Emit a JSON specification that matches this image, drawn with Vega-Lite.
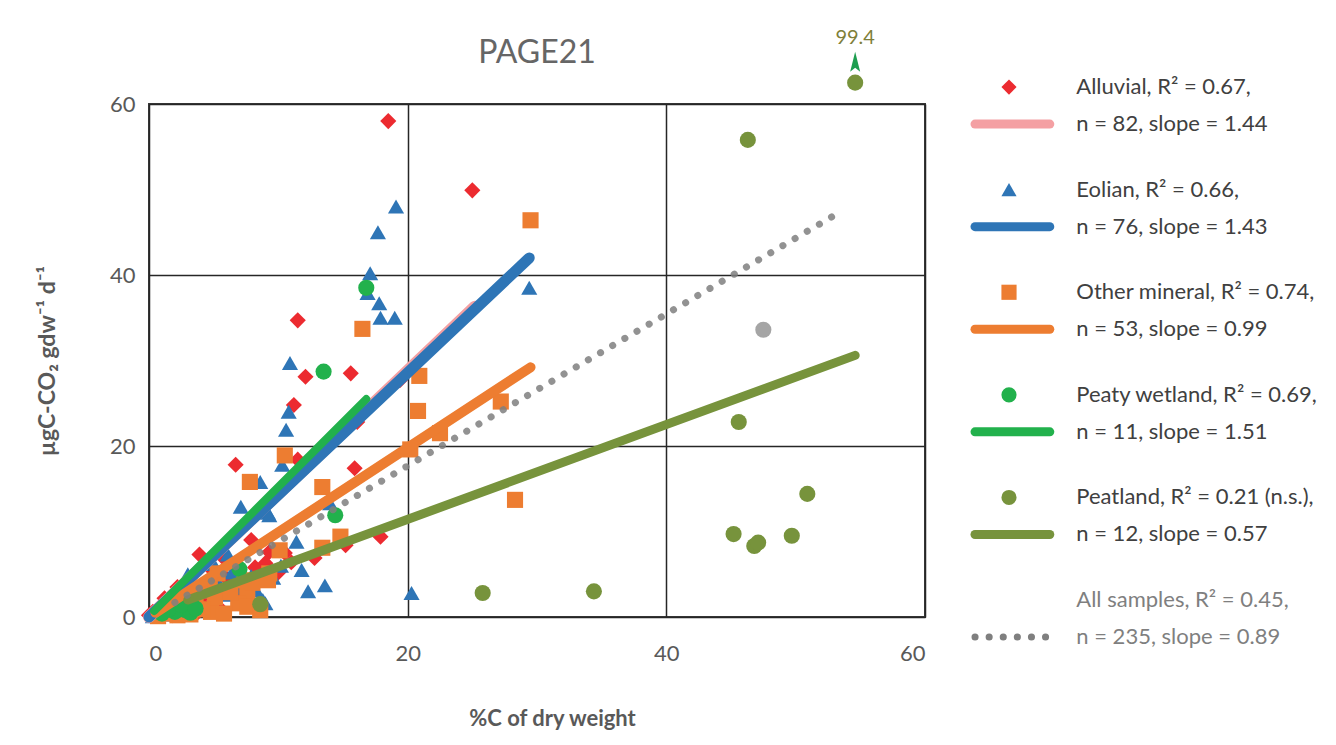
{
  "$schema": "https://vega.github.io/schema/vega-lite/v6.json",
  "padding": {"left": 35, "top": 26, "right": 10, "bottom": 8},
  "bounds": "flush",
  "spacing": 33,
  "config": {"view": {"stroke": null}, "font": "Lato"},
  "datasets": {
    "points": [
      {"series":"Alluvial","x":18.5,"y":58.0},{"series":"Alluvial","x":25.0,"y":49.9},{"series":"Alluvial","x":11.5,"y":34.7},{"series":"Alluvial","x":12.1,"y":28.1},{"series":"Alluvial","x":11.2,"y":24.8},{"series":"Alluvial","x":6.7,"y":17.8},{"series":"Alluvial","x":11.5,"y":18.4},{"series":"Alluvial","x":15.6,"y":28.5},{"series":"Alluvial","x":15.9,"y":17.4},{"series":"Alluvial","x":17.9,"y":9.4},{"series":"Alluvial","x":15.2,"y":8.4},{"series":"Alluvial","x":19.4,"y":27.7},{"series":"Alluvial","x":16.1,"y":22.8},{"series":"Alluvial","x":7.9,"y":9.0},{"series":"Alluvial","x":9.3,"y":7.6},{"series":"Alluvial","x":10.5,"y":7.5},{"series":"Alluvial","x":8.2,"y":5.8},{"series":"Alluvial","x":3.9,"y":7.3},{"series":"Alluvial","x":5.9,"y":6.7},{"series":"Alluvial","x":0.0,"y":0.2},
      {"series":"Alluvial","x":0.5,"y":0.3},{"series":"Alluvial","x":1.0,"y":0.8},{"series":"Alluvial","x":1.5,"y":1.2},{"series":"Alluvial","x":2.0,"y":0.5},{"series":"Alluvial","x":2.5,"y":2.0},{"series":"Alluvial","x":3.0,"y":1.5},{"series":"Alluvial","x":3.5,"y":3.0},{"series":"Alluvial","x":4.0,"y":2.2},{"series":"Alluvial","x":4.5,"y":4.0},{"series":"Alluvial","x":5.0,"y":3.2},{"series":"Alluvial","x":5.5,"y":1.0},{"series":"Alluvial","x":6.0,"y":4.5},{"series":"Alluvial","x":6.5,"y":2.5},{"series":"Alluvial","x":7.0,"y":5.0},{"series":"Alluvial","x":7.5,"y":3.6},{"series":"Alluvial","x":8.5,"y":4.4},{"series":"Alluvial","x":9.0,"y":6.3},{"series":"Alluvial","x":10.0,"y":5.2},{"series":"Alluvial","x":1.2,"y":2.2},{"series":"Alluvial","x":2.2,"y":3.5},{"series":"Alluvial","x":3.2,"y":4.6},{"series":"Alluvial","x":4.8,"y":5.6},{"series":"Alluvial","x":6.2,"y":3.4},{"series":"Alluvial","x":11.0,"y":6.4},{"series":"Alluvial","x":0.3,"y":0.6},{"series":"Alluvial","x":1.8,"y":0.2},{"series":"Alluvial","x":2.8,"y":0.9},{"series":"Alluvial","x":3.8,"y":0.6},{"series":"Alluvial","x":4.2,"y":1.4},{"series":"Alluvial","x":12.8,"y":6.9},
      {"series":"Eolian","x":19.1,"y":48.0},{"series":"Eolian","x":17.7,"y":45.0},{"series":"Eolian","x":17.1,"y":40.2},{"series":"Eolian","x":16.9,"y":37.9},{"series":"Eolian","x":17.8,"y":36.7},{"series":"Eolian","x":17.9,"y":35.0},{"series":"Eolian","x":19.0,"y":35.0},{"series":"Eolian","x":29.4,"y":38.5},{"series":"Eolian","x":20.3,"y":2.8},{"series":"Eolian","x":10.9,"y":29.7},{"series":"Eolian","x":10.8,"y":24.0},{"series":"Eolian","x":10.6,"y":21.9},{"series":"Eolian","x":10.3,"y":17.8},{"series":"Eolian","x":8.6,"y":15.8},{"series":"Eolian","x":9.2,"y":12.2},{"series":"Eolian","x":11.4,"y":8.8},{"series":"Eolian","x":13.6,"y":3.7},{"series":"Eolian","x":14.0,"y":13.3},{"series":"Eolian","x":8.8,"y":2.0},{"series":"Eolian","x":7.1,"y":12.9},{"series":"Eolian","x":9.3,"y":11.9},{"series":"Eolian","x":6.1,"y":7.3},{"series":"Eolian","x":9.0,"y":1.6},
      {"series":"Eolian","x":0.3,"y":0.1},{"series":"Eolian","x":0.8,"y":0.5},{"series":"Eolian","x":1.3,"y":1.0},{"series":"Eolian","x":1.8,"y":0.3},{"series":"Eolian","x":2.3,"y":1.6},{"series":"Eolian","x":2.8,"y":0.8},{"series":"Eolian","x":3.3,"y":2.4},{"series":"Eolian","x":3.8,"y":1.2},{"series":"Eolian","x":4.3,"y":3.0},{"series":"Eolian","x":4.8,"y":1.8},{"series":"Eolian","x":5.3,"y":4.2},{"series":"Eolian","x":5.8,"y":2.6},{"series":"Eolian","x":6.4,"y":5.2},{"series":"Eolian","x":6.9,"y":3.4},{"series":"Eolian","x":7.4,"y":1.9},{"series":"Eolian","x":7.9,"y":4.8},{"series":"Eolian","x":8.3,"y":3.1},{"series":"Eolian","x":9.6,"y":4.6},{"series":"Eolian","x":10.2,"y":6.0},{"series":"Eolian","x":11.8,"y":5.5},{"series":"Eolian","x":12.3,"y":3.0},{"series":"Eolian","x":5.0,"y":6.2},{"series":"Eolian","x":3.0,"y":5.0},{"series":"Eolian","x":2.0,"y":2.8},{"series":"Eolian","x":1.0,"y":1.6},
      {"series":"Other mineral","x":29.5,"y":46.4},{"series":"Other mineral","x":16.5,"y":33.7},{"series":"Other mineral","x":20.9,"y":28.2},{"series":"Other mineral","x":20.8,"y":24.1},{"series":"Other mineral","x":22.5,"y":21.5},{"series":"Other mineral","x":27.2,"y":25.2},{"series":"Other mineral","x":20.2,"y":19.6},{"series":"Other mineral","x":28.3,"y":13.7},{"series":"Other mineral","x":14.8,"y":9.4},{"series":"Other mineral","x":10.5,"y":18.9},{"series":"Other mineral","x":7.8,"y":15.8},{"series":"Other mineral","x":13.4,"y":15.2},{"series":"Other mineral","x":10.1,"y":7.8},{"series":"Other mineral","x":13.4,"y":8.1},{"series":"Other mineral","x":9.3,"y":5.1},{"series":"Other mineral","x":7.6,"y":2.8},{"series":"Other mineral","x":9.2,"y":4.3},{"series":"Other mineral","x":6.9,"y":1.6},{"series":"Other mineral","x":4.8,"y":0.6},{"series":"Other mineral","x":2.2,"y":0.2},{"series":"Other mineral","x":4.7,"y":3.5},{"series":"Other mineral","x":5.1,"y":2.3},{"series":"Other mineral","x":7.4,"y":4.3},{"series":"Other mineral","x":7.6,"y":1.2},{"series":"Other mineral","x":8.0,"y":4.0},{"series":"Other mineral","x":0.7,"y":0.1},{"series":"Other mineral","x":5.3,"y":5.1},{"series":"Other mineral","x":1.2,"y":0.4},{"series":"Other mineral","x":1.7,"y":0.9},{"series":"Other mineral","x":2.7,"y":1.1},{"series":"Other mineral","x":3.2,"y":0.3},{"series":"Other mineral","x":3.6,"y":1.9},{"series":"Other mineral","x":4.1,"y":0.9},{"series":"Other mineral","x":5.8,"y":0.4},{"series":"Other mineral","x":6.3,"y":2.9},{"series":"Other mineral","x":8.6,"y":0.8},{"series":"Other mineral","x":3.9,"y":3.1},
      {"series":"Peaty wetland","x":16.8,"y":38.5},{"series":"Peaty wetland","x":13.5,"y":28.7},{"series":"Peaty wetland","x":14.4,"y":11.9},{"series":"Peaty wetland","x":7.0,"y":5.6},{"series":"Peaty wetland","x":2.8,"y":0.8},{"series":"Peaty wetland","x":2.0,"y":0.6},{"series":"Peaty wetland","x":3.2,"y":0.5},{"series":"Peaty wetland","x":1.5,"y":0.9},{"series":"Peaty wetland","x":2.5,"y":1.4},{"series":"Peaty wetland","x":3.6,"y":1.0},{"series":"Peaty wetland","x":1.0,"y":0.4},
      {"series":"Peatland","x":54.6,"y":62.5,"label":"99.4"},{"series":"Peatland","x":46.3,"y":55.8},{"series":"Peatland","x":45.6,"y":22.8},{"series":"Peatland","x":50.9,"y":14.4},{"series":"Peatland","x":45.2,"y":9.7},{"series":"Peatland","x":46.8,"y":8.3},{"series":"Peatland","x":47.1,"y":8.7},{"series":"Peatland","x":49.7,"y":9.5},{"series":"Peatland","x":34.4,"y":3.0},{"series":"Peatland","x":25.8,"y":2.8},{"series":"Peatland","x":8.6,"y":1.5},
      {"series":"Unassigned","x":47.5,"y":33.6}
    ],
    "fits": [
      {"series":"Alluvial","x":0.0,"y":0.0},{"series":"Alluvial","x":25.2,"y":36.3},
      {"series":"Eolian","x":0.0,"y":0.0},{"series":"Eolian","x":29.4,"y":42.0},
      {"series":"Other mineral","x":0.5,"y":0.5},{"series":"Other mineral","x":29.5,"y":29.2},
      {"series":"Peatland","x":3.0,"y":2.0},{"series":"Peatland","x":54.6,"y":30.6},
      {"series":"Peaty wetland","x":0.4,"y":0.7},{"series":"Peaty wetland","x":16.8,"y":25.5}
    ],
    "allfit": [{"x":2.0,"y":1.7},{"x":53.7,"y":47.6}],
    "legend": [
      {"idx":0,"series":"Alluvial","l1":"Alluvial, R² = 0.67,","l2":"n = 82, slope = 1.44"},
      {"idx":1,"series":"Eolian","l1":"Eolian, R² = 0.66,","l2":"n = 76, slope = 1.43"},
      {"idx":2,"series":"Other mineral","l1":"Other mineral, R² = 0.74,","l2":"n = 53, slope = 0.99"},
      {"idx":3,"series":"Peaty wetland","l1":"Peaty wetland, R² = 0.69,","l2":"n = 11, slope = 1.51"},
      {"idx":4,"series":"Peatland","l1":"Peatland, R² = 0.21 (n.s.),","l2":"n = 12, slope = 0.57"},
      {"idx":5,"series":"All samples","l1":"All samples, R² = 0.45,","l2":"n = 235, slope = 0.89"}
    ]
  },
  "hconcat": [
    {
      "width": 776,
      "height": 513,
      "view": {"stroke": "#3a3a3a", "strokeWidth": 2},
      "title": {"text": "PAGE21", "fontSize": 32, "fontWeight": "normal", "color": "#666666", "offset": -42, "anchor": "middle", "frame": "group"},
      "encoding": {
        "x": {"field": "x", "type": "quantitative",
          "scale": {"domain": [0, 60], "nice": false, "zero": false},
          "axis": {"values": [0, 20, 40, 60], "title": "%C of dry weight", "titleFontSize": 22, "titleFontWeight": "bold", "titleColor": "#595959", "titlePadding": 44, "titleX": 403, "titleAlign": "center",
            "labelFontSize": 22, "labelColor": "#595959", "labelPadding": 26, "ticks": false, "tickSize": 0, "domain": false,
            "grid": true, "gridColor": "#262626", "gridWidth": 1.5, "gridOpacity": 1}},
        "y": {"field": "y", "type": "quantitative",
          "scale": {"domain": [0, 60], "nice": false, "zero": false},
          "axis": {"values": [0, 20, 40, 60], "title": "µgC-CO₂ gdw⁻¹ d⁻¹", "titleFontSize": 23, "titleFontWeight": "bold", "titleColor": "#595959", "titlePadding": 50,
            "labelFontSize": 22, "labelColor": "#595959", "labelPadding": 14, "ticks": false, "tickSize": 0, "domain": false,
            "grid": true, "gridColor": "#262626", "gridWidth": 1.5, "gridOpacity": 1}}
      },
      "layer": [
        {
          "data": {"name": "points"},
          "mark": {"type": "point", "filled": true, "opacity": 1, "size": 260, "clip": false},
          "encoding": {
            "fill": {"field": "series", "type": "nominal", "legend": null,
              "scale": {"domain": ["Alluvial", "Eolian", "Other mineral", "Peaty wetland", "Peatland", "Unassigned"],
                        "range": ["#EC2B30", "#2E75B6", "#ED7D31", "#22B14C", "#77933C", "#A5A5A5"]}},
            "shape": {"field": "series", "type": "nominal", "legend": null,
              "scale": {"domain": ["Alluvial", "Eolian", "Other mineral", "Peaty wetland", "Peatland", "Unassigned"],
                        "range": ["M0,-1L1,0L0,1L-1,0Z", "triangle-up", "square", "circle", "circle", "circle"]}}
          }
        },
        {
          "data": {"name": "fits"},
          "mark": {"type": "line", "strokeCap": "round", "clip": false},
          "encoding": {
            "stroke": {"field": "series", "type": "nominal", "legend": null,
              "scale": {"domain": ["Alluvial", "Eolian", "Other mineral", "Peatland", "Peaty wetland"],
                        "range": ["#F4A0A3", "#2E75B6", "#ED7D31", "#77933C", "#22B14C"]}},
            "strokeWidth": {"field": "series", "type": "nominal", "legend": null,
              "scale": {"domain": ["Alluvial", "Eolian", "Other mineral", "Peatland", "Peaty wetland"],
                        "range": [12, 8, 7, 8, 8]}}
          }
        },
        {
          "data": {"name": "allfit"},
          "mark": {"type": "line", "color": "#7F7F7F", "strokeWidth": 7, "strokeDash": [0.1, 14], "strokeCap": "round", "opacity": 0.85},
          "encoding": {}
        },
        {
          "data": {"name": "points"},
          "transform": [{"filter": "datum.label"}],
          "mark": {"type": "point", "filled": true, "opacity": 1, "color": "#1E9E50", "size": 400, "yOffset": -21, "clip": false,
                   "shape": "M0,-1L0.5,1L0,0.6L-0.5,1Z"},
          "encoding": {}
        },
        {
          "data": {"name": "points"},
          "transform": [{"filter": "datum.label"}],
          "mark": {"type": "text", "fontSize": 20, "color": "#7F7F3A", "dy": -45, "clip": false},
          "encoding": {"text": {"field": "label"}}
        }
      ]
    },
    {
      "width": 340,
      "height": 513,
      "data": {"name": "legend"},
      "encoding": {
        "y": {"field": "idx", "type": "quantitative", "axis": null,
          "scale": {"domain": [0.165, 5.165], "reverse": true, "nice": false, "zero": false}}
      },
      "layer": [
        {
          "transform": [{"filter": "datum.series !== 'All samples'"}],
          "mark": {"type": "rule", "strokeCap": "round", "strokeWidth": 9, "yOffset": 37},
          "encoding": {
            "x": {"datum": 0.5, "type": "quantitative", "scale": {"domain": [0, 10], "nice": false, "zero": false}, "axis": null},
            "x2": {"datum": 2.7},
            "stroke": {"field": "series", "type": "nominal", "legend": null,
              "scale": {"domain": ["Alluvial", "Eolian", "Other mineral", "Peatland", "Peaty wetland"],
                        "range": ["#F4A0A3", "#2E75B6", "#ED7D31", "#77933C", "#22B14C"]}}
          }
        },
        {
          "transform": [{"filter": "datum.series === 'All samples'"}],
          "mark": {"type": "rule", "strokeCap": "round", "strokeWidth": 7, "strokeDash": [0.1, 14], "color": "#7F7F7F", "yOffset": 37},
          "encoding": {
            "x": {"datum": 0.5, "type": "quantitative"},
            "x2": {"datum": 2.7}
          }
        },
        {
          "transform": [{"filter": "datum.series !== 'All samples'"}],
          "mark": {"type": "point", "filled": true, "opacity": 1, "size": 230},
          "encoding": {
            "x": {"datum": 1.5, "type": "quantitative"},
            "fill": {"field": "series", "type": "nominal", "legend": null,
              "scale": {"domain": ["Alluvial", "Eolian", "Other mineral", "Peaty wetland", "Peatland", "Unassigned"],
                        "range": ["#EC2B30", "#2E75B6", "#ED7D31", "#22B14C", "#77933C", "#A5A5A5"]}},
            "shape": {"field": "series", "type": "nominal", "legend": null,
              "scale": {"domain": ["Alluvial", "Eolian", "Other mineral", "Peaty wetland", "Peatland", "Unassigned"],
                        "range": ["M0,-1L1,0L0,1L-1,0Z", "triangle-up", "square", "circle", "circle", "circle"]}}
          }
        },
        {
          "mark": {"type": "text", "align": "left", "baseline": "middle", "fontSize": 22},
          "encoding": {
            "x": {"datum": 3.48, "type": "quantitative"},
            "text": {"field": "l1"},
            "color": {"condition": {"test": "datum.series === 'All samples'", "value": "#7F7F7F"}, "value": "#404040"}
          }
        },
        {
          "mark": {"type": "text", "align": "left", "baseline": "middle", "fontSize": 22, "dy": 37},
          "encoding": {
            "x": {"datum": 3.48, "type": "quantitative"},
            "text": {"field": "l2"},
            "color": {"condition": {"test": "datum.series === 'All samples'", "value": "#7F7F7F"}, "value": "#404040"}
          }
        }
      ]
    }
  ]
}
